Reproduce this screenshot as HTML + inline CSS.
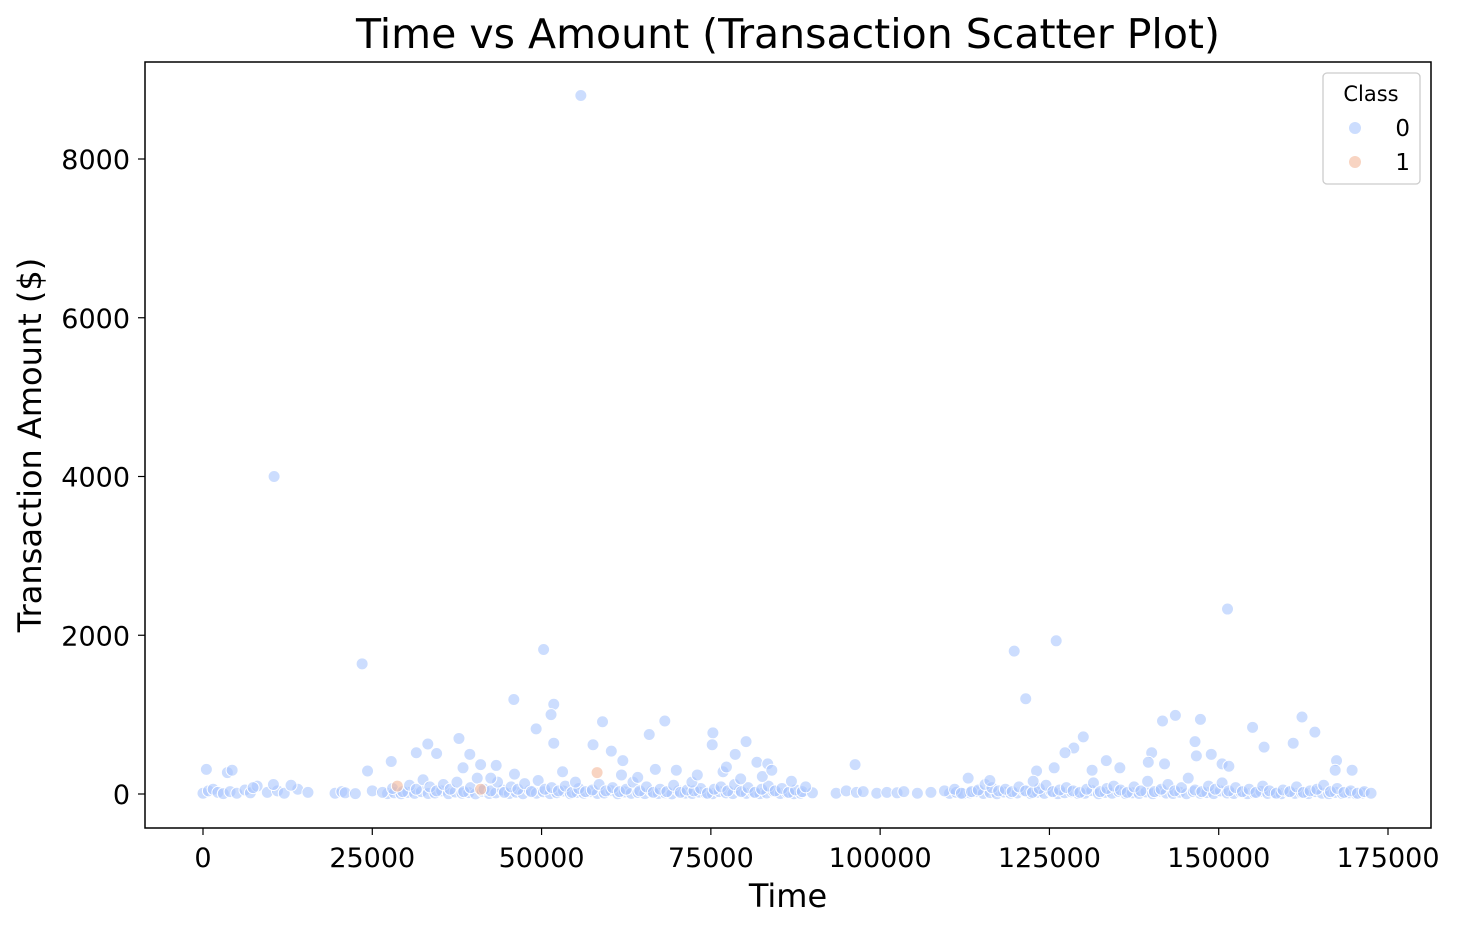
<!DOCTYPE html>
<html><head><meta charset="utf-8"><style>
body{margin:0;background:#fff;}
svg text{font-family:"DejaVu Sans","Liberation Sans",sans-serif;fill:#000;}
</style></head><body>
<svg id="chart" width="1460" height="930" xmlns="http://www.w3.org/2000/svg">
<text x="788" y="48" font-size="41" text-anchor="middle">Time vs Amount (Transaction Scatter Plot)</text>
<g id="marks"></g>
<rect x="145" y="62" width="1286" height="766" fill="none" stroke="#000" stroke-width="1.5"/>
<g id="xticks"></g>
<g id="yticks"></g>
<text x="788" y="907" font-size="32" text-anchor="middle">Time</text>
<text transform="translate(41,445) rotate(-90)" font-size="32" text-anchor="middle">Transaction Amount ($)</text>
<g>
<rect x="1323" y="73" width="97" height="111" rx="4" fill="#fff" stroke="#ccc" stroke-width="1.3"/>
<text x="1371" y="101" font-size="21" text-anchor="middle">Class</text>
<circle cx="1355" cy="128" r="6" fill="#aac7fd" fill-opacity="0.6"/>
<text x="1410" y="136" font-size="23" text-anchor="end">0</text>
<circle cx="1355" cy="162" r="6" fill="#f4b79a" fill-opacity="0.6"/>
<text x="1410" y="170" font-size="23" text-anchor="end">1</text>
</g>
</svg>
<script>
const xTicks=[0,25000,50000,75000,100000,125000,150000,175000];
const yTicks=[0,2000,4000,6000,8000];
const outliers0=[[55800,8800],[10500,4000],[23500,1640],[50300,1820],[119800,1800],[126000,1930],[151300,2330],[121500,1200],[45900,1190],[51800,1130],[51400,1000],[49200,820],[59000,910],[68200,920],[75300,770],[75200,620],[80200,660],[65900,750],[37800,700],[33200,630],[51800,640],[57600,620],[39400,500],[34500,510],[31500,520],[60300,540],[62000,420],[78600,500],[96300,370],[143600,990],[141700,920],[147300,940],[162300,970],[164200,780],[155000,840],[156700,590],[161000,640],[128600,580],[127300,520],[130000,720],[140100,520],[148900,500],[146500,660],[146700,480],[142000,380],[139600,400],[150500,380],[151500,350],[167400,420],[169700,300],[167200,300],[135400,330],[133400,420],[131300,300],[125700,330],[123100,290],[122600,160],[116200,170],[113000,200],[3600,270],[4300,300],[500,310],[24300,290],[27800,410],[43300,360],[41000,370],[38400,330],[42500,200],[46000,250],[53100,280],[55000,150],[61800,240],[64200,210],[66800,310],[69900,300],[72200,150],[73000,240],[76800,280],[77300,340],[79400,190],[81800,400],[83400,380],[82600,220],[84000,300],[86900,160],[89000,90],[7400,80],[10400,120],[13000,110]];
const base0=[[0,10],[800,40],[1500,60],[2200,20],[3000,5],[4000,30],[5000,10],[6200,50],[7000,15],[8000,100],[9500,20],[11000,40],[12000,10],[14000,60],[15500,20],[19500,10],[20500,30],[21000,15],[22500,5],[25000,40],[26500,20],[28000,70],[29500,30],[30500,110],[31500,60],[32500,180],[33500,90],[34500,40],[35500,120],[36500,60],[37500,150],[38500,30],[39500,80],[40500,200],[41500,60],[42500,40],[43500,150],[44500,20],[45500,90],[46500,60],[47500,130],[48500,30],[49500,170],[50500,60],[51500,80],[52500,40],[53500,100],[54500,20],[55500,70],[56500,30],[57500,50],[58500,120],[59500,40],[60500,80],[61500,30],[62500,60],[63500,150],[64500,40],[65500,90],[66500,20],[67500,60],[68500,30],[69500,110],[70500,20],[71500,50],[72500,40],[73500,70],[74500,10],[75500,60],[76500,90],[77500,40],[78500,120],[79500,30],[80500,80],[81500,20],[82500,60],[83500,100],[84500,40],[85500,70],[86500,20],[87500,50],[88500,30],[90000,15],[93500,10],[95000,40],[96500,20],[97500,30],[99500,10],[101000,20],[102500,15],[103500,30],[105500,10],[107500,20],[109500,40],[111000,60],[112000,10],[113500,30],[114500,50],[115500,120],[116500,80],[117500,40],[118500,60],[119500,30],[120500,90],[121500,40],[122500,20],[123500,70],[124500,110],[125500,30],[126500,50],[127500,80],[128500,40],[129500,20],[130500,60],[131500,140],[132500,30],[133500,70],[134500,100],[135500,50],[136500,20],[137500,90],[138500,40],[139500,160],[140500,30],[141500,60],[142500,120],[143500,40],[144500,80],[145500,200],[146500,50],[147500,30],[148500,100],[149500,60],[150500,140],[151500,40],[152500,80],[153500,30],[154500,60],[155500,20],[156500,100],[157500,40],[158500,10],[159500,50],[160500,30],[161500,90],[162500,20],[163500,40],[164500,60],[165500,110],[166500,30],[167500,70],[168500,20],[169500,40],[170500,10],[171500,30],[172500,10]];
const dense0=[[27250,5],[28250,15],[29250,3],[30250,20],[31250,8],[32250,30],[33250,6],[34250,12],[35250,40],[36250,4],[37250,25],[38250,9],[39250,18],[40250,2],[41250,35],[42250,7],[43250,14],[44250,50],[45250,6],[46250,22],[47250,3],[48250,45],[49250,10],[50250,28],[51250,5],[52250,16],[53250,38],[54250,4],[55250,20],[56250,9],[57250,30],[58250,6],[59250,12],[60250,42],[61250,3],[62250,26],[63250,8],[64250,19],[65250,5],[66250,33],[67250,7],[68250,15],[69250,2],[70250,40],[71250,11],[72250,6],[73250,24],[74250,9],[75250,3],[76250,30],[77250,14],[78250,5],[79250,45],[80250,8],[81250,20],[82250,4],[83250,12],[84250,35],[85250,6],[86250,18],[87250,3],[88250,10],[110250,8],[111250,20],[112250,4],[113250,14],[114250,30],[115250,6],[116250,18],[117250,3],[118250,25],[119250,9],[120250,12],[121250,40],[122250,5],[123250,22],[124250,8],[125250,35],[126250,4],[127250,16],[128250,28],[129250,6],[130250,10],[131250,44],[132250,3],[133250,20],[134250,9],[135250,32],[136250,5],[137250,15],[138250,7],[139250,26],[140250,4],[141250,38],[142250,11],[143250,6],[144250,22],[145250,3],[146250,30],[147250,9],[148250,18],[149250,5],[150250,40],[151250,12],[152250,6],[153250,25],[154250,4],[155250,14],[156250,33],[157250,7],[158250,19],[159250,3],[160250,28],[161250,8],[162250,16],[163250,5],[164250,30],[165250,10],[166250,4],[167250,20],[168250,6],[169250,15],[170250,3],[171250,12]];
const points1=[[28700,100],[58200,270],[41000,60]];
const X=v=>203+v*(1185/175000);
const Y=v=>794-v*(635/8000);
const NS="http://www.w3.org/2000/svg";
const marks=document.getElementById('marks');
function dot(t,a,fill,name){
 const c=document.createElementNS(NS,'circle');
 c.setAttribute('cx',X(t));c.setAttribute('cy',Y(a));c.setAttribute('r',6);
 c.setAttribute('fill',fill);c.setAttribute('fill-opacity',0.6);
 c.setAttribute('stroke','#fff');c.setAttribute('stroke-width',1);
 
 
 marks.appendChild(c);
}
dense0.forEach(p=>dot(p[0],p[1],'#aac7fd','point-class-0'));
base0.forEach(p=>dot(p[0],p[1],'#aac7fd','point-class-0'));
outliers0.forEach(p=>dot(p[0],p[1],'#aac7fd','point-class-0'));
points1.forEach(p=>dot(p[0],p[1],'#f4b79a','point-class-1'));
const xg=document.getElementById('xticks');
xTicks.forEach(v=>{
 const l=document.createElementNS(NS,'line');
 l.setAttribute('x1',X(v));l.setAttribute('x2',X(v));l.setAttribute('y1',828);l.setAttribute('y2',835);l.setAttribute('stroke','#000');l.setAttribute('stroke-width',1.2);
 
 
 xg.appendChild(l);
 const t=document.createElementNS(NS,'text');
 t.setAttribute('x',X(v));t.setAttribute('y',867);t.setAttribute('font-size',27);t.setAttribute('text-anchor','middle');
 t.textContent=v;
 
 
 xg.appendChild(t);
});
const yg=document.getElementById('yticks');
yTicks.forEach(v=>{
 const l=document.createElementNS(NS,'line');
 l.setAttribute('x1',138);l.setAttribute('x2',145);l.setAttribute('y1',Y(v));l.setAttribute('y2',Y(v));l.setAttribute('stroke','#000');l.setAttribute('stroke-width',1.2);
 
 
 yg.appendChild(l);
 const t=document.createElementNS(NS,'text');
 t.setAttribute('x',130);t.setAttribute('y',Y(v)+10);t.setAttribute('font-size',27);t.setAttribute('text-anchor','end');
 t.textContent=v;
 
 
 yg.appendChild(t);
});
</script>
</body></html>
